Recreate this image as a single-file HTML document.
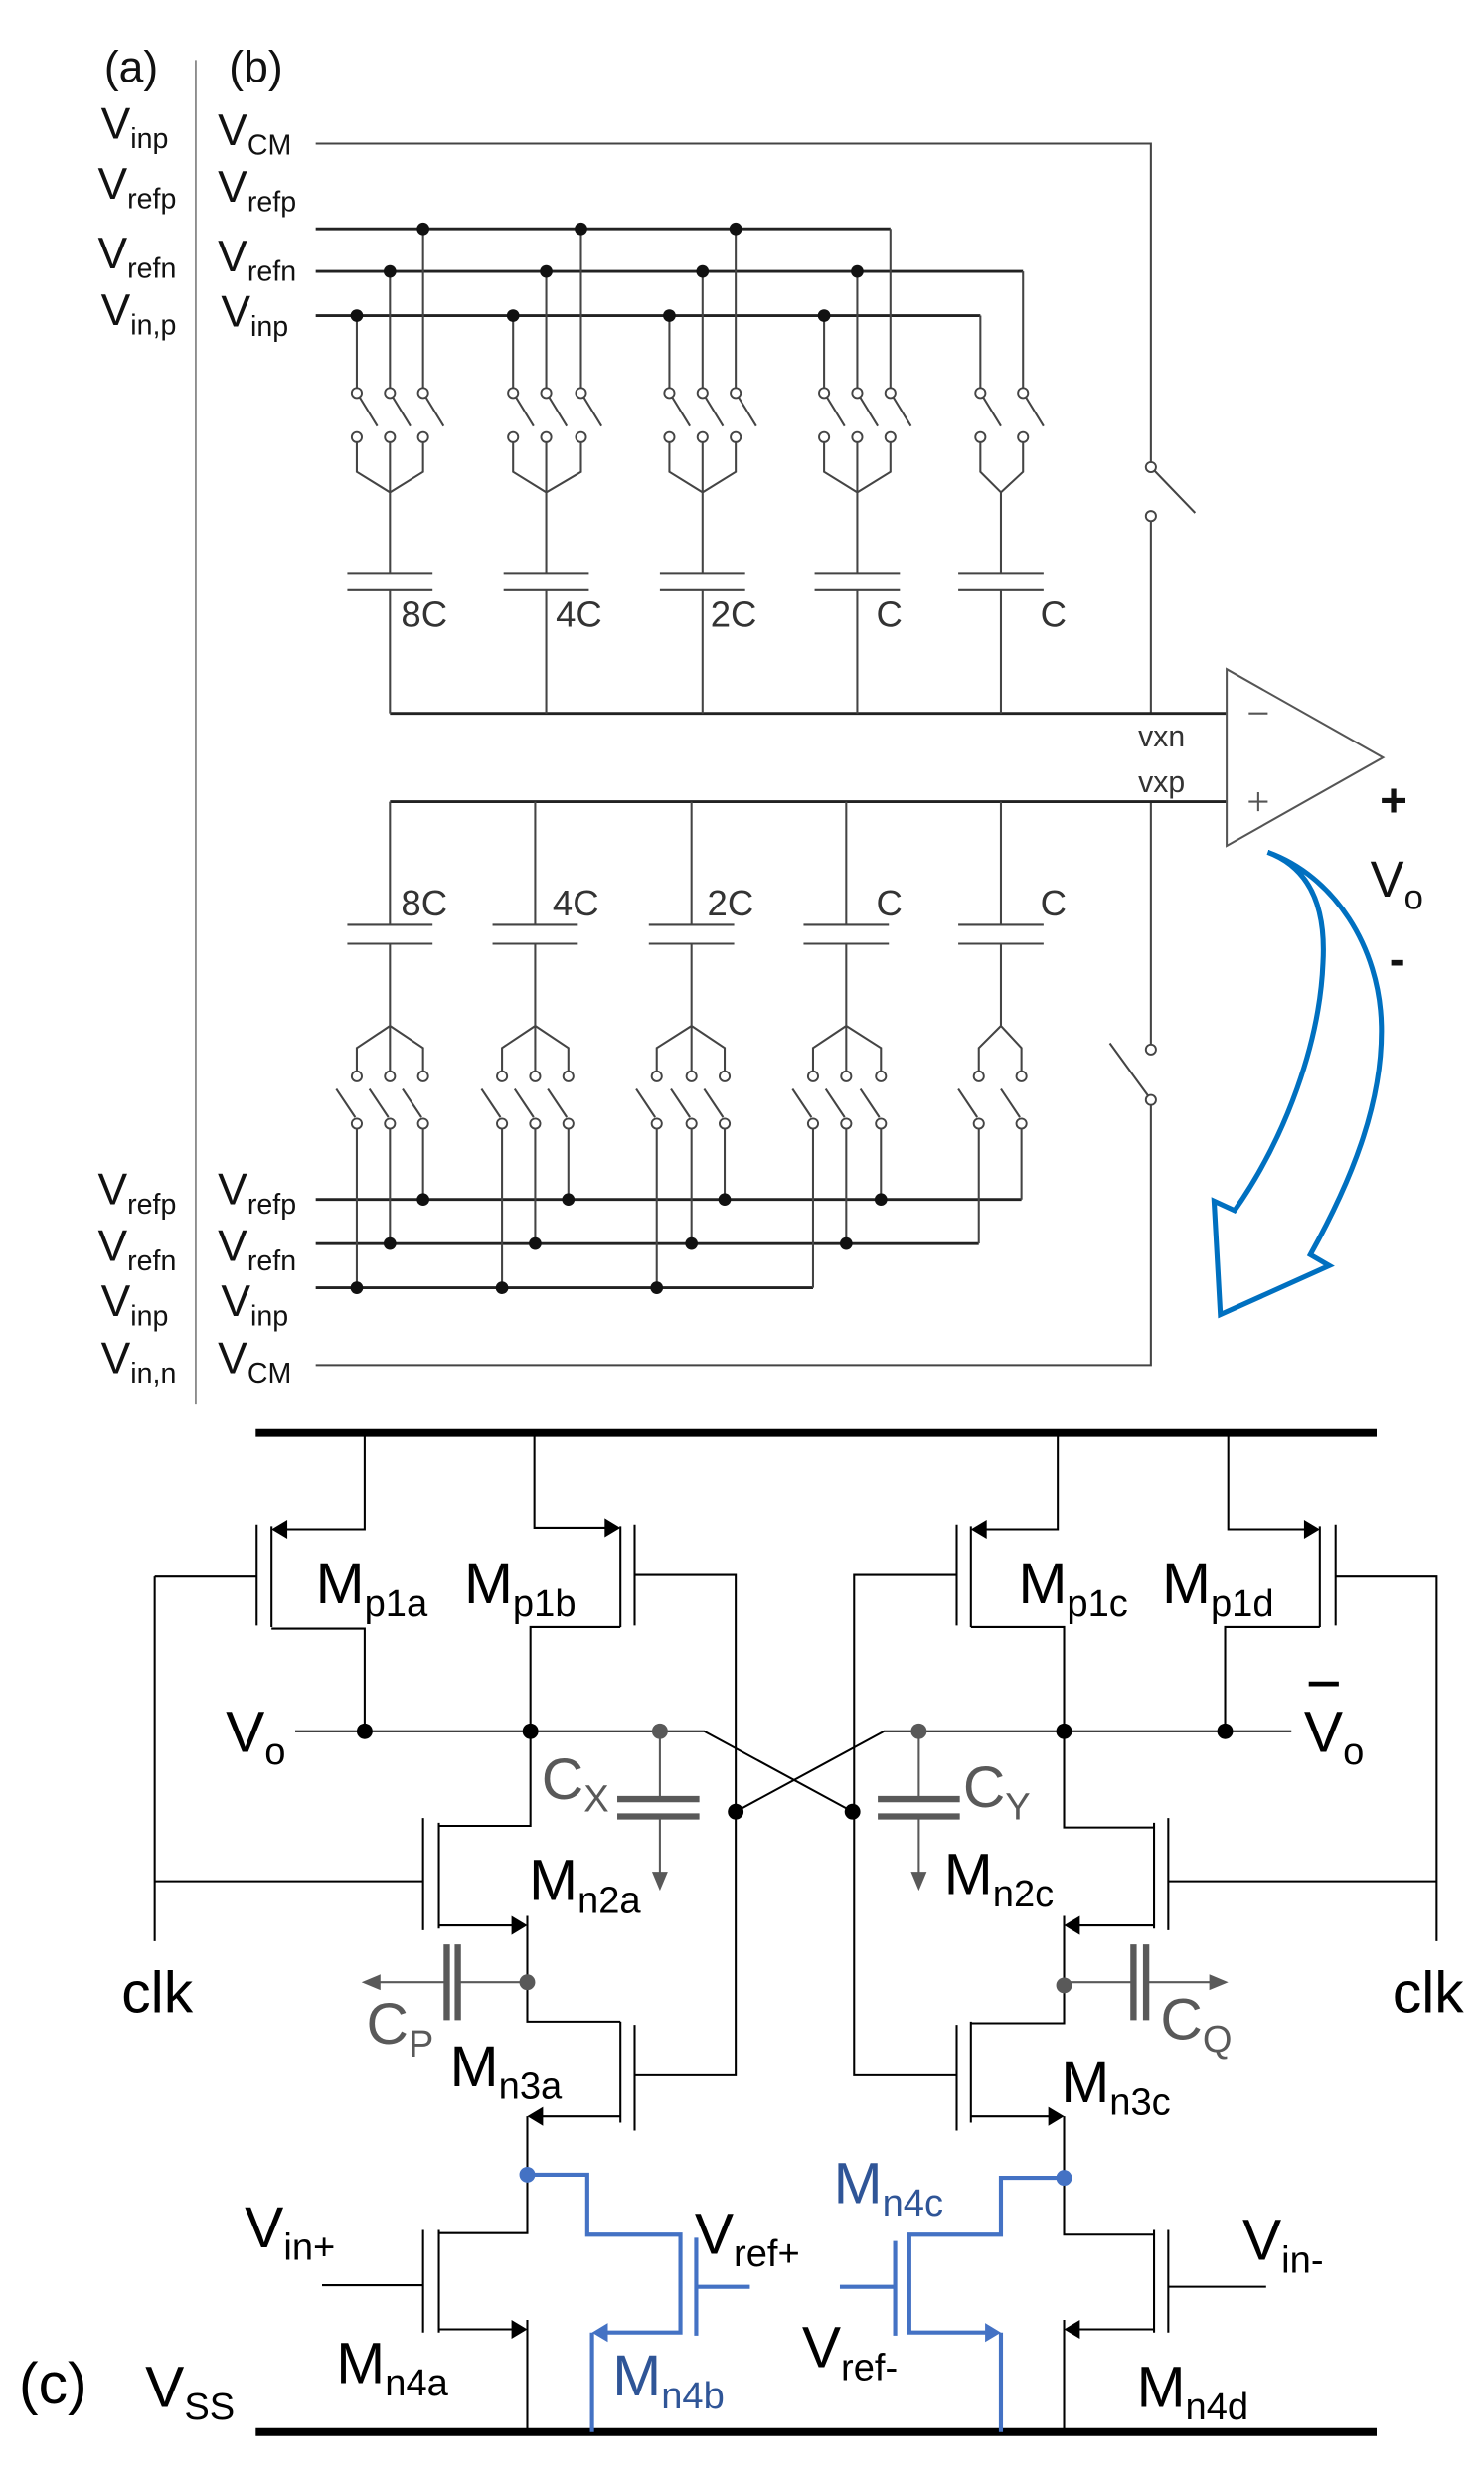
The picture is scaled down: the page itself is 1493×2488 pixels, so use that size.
<!DOCTYPE html>
<html><head><meta charset="utf-8"><style>
html,body{margin:0;padding:0;background:#fff}
svg{display:block}
text{font-family:"Liberation Sans",sans-serif}
</style></head><body>
<svg width="1493" height="2488" viewBox="0 0 940 1567" preserveAspectRatio="none" xmlns="http://www.w3.org/2000/svg">
<rect width="940" height="1567" fill="#fff"/>
<line x1="124" y1="38" x2="124" y2="890" stroke="#777" stroke-width="1"/>
<g font-size="28" fill="#111">
<text x="66" y="52">(a)</text><text x="145" y="52">(b)</text>
<text x="64" y="88">V<tspan font-size="18" dy="6">inp</tspan></text>
<text x="62" y="126">V<tspan font-size="18" dy="6">refp</tspan></text>
<text x="62" y="170">V<tspan font-size="18" dy="6">refn</tspan></text>
<text x="64" y="206">V<tspan font-size="18" dy="6">in,p</tspan></text>
<text x="138" y="92">V<tspan font-size="18" dy="6">CM</tspan></text>
<text x="138" y="128">V<tspan font-size="18" dy="6">refp</tspan></text>
<text x="138" y="172">V<tspan font-size="18" dy="6">refn</tspan></text>
<text x="140" y="207">V<tspan font-size="18" dy="6">inp</tspan></text>
<text x="62" y="763">V<tspan font-size="18" dy="6">refp</tspan></text>
<text x="62" y="799">V<tspan font-size="18" dy="6">refn</tspan></text>
<text x="64" y="834">V<tspan font-size="18" dy="6">inp</tspan></text>
<text x="64" y="870">V<tspan font-size="18" dy="6">in,n</tspan></text>
<text x="138" y="763">V<tspan font-size="18" dy="6">refp</tspan></text>
<text x="138" y="799">V<tspan font-size="18" dy="6">refn</tspan></text>
<text x="140" y="834">V<tspan font-size="18" dy="6">inp</tspan></text>
<text x="138" y="870">V<tspan font-size="18" dy="6">CM</tspan></text>
</g>
<g stroke="#444" stroke-width="1.3" fill="none">
<path d="M200 91H729V293M731 298L757 325M729 330V452"/>
<path d="M729 508V662M703 661L727 694M729 700V865H200"/>
<path d="M200 145H564M200 172H648M200 200H621" stroke="#222" stroke-width="1.8"/>
<path d="M200 760H647M200 788H620M200 816H515" stroke="#222" stroke-width="1.8"/>
<path d="M247 452H777M247 508H777" stroke="#222" stroke-width="1.8"/>
<path d="M226 200V246M247 172V246M268 145V246M228 252L239 270M249 252L260 270M270 252L281 270M226 280V299L247 312L268 299V280M247 280V363M220 363H274M220 374H274M247 374V452"/>
<path d="M325 200V246M346 172V246M368 145V246M327 252L338 270M348 252L359 270M370 252L381 270M325 280V299L346 312L368 299V280M346 280V363M319 363H373M319 374H373M346 374V452"/>
<path d="M424 200V246M445 172V246M466 145V246M426 252L437 270M447 252L458 270M468 252L479 270M424 280V299L445 312L466 299V280M445 280V363M418 363H472M418 374H472M445 374V452"/>
<path d="M522 200V246M543 172V246M564 145V246M524 252L535 270M545 252L556 270M566 252L577 270M522 280V299L543 312L564 299V280M543 280V363M516 363H570M516 374H570M543 374V452"/>
<path d="M621 200V246M648 172V246M623 252L634 270M650 252L661 270M621 280V299L634 312L648 299V280M634 312V363M607 363H661M607 374H661M634 374V452"/>
<path d="M247 508V586M220 586H274M220 598H274M247 598V650L226 664V679M247 650V679M247 650L268 664V679M213 690L225 708M234 690L246 708M255 690L267 708M226 715V816M247 715V788M268 715V760"/>
<path d="M339 508V586M312 586H366M312 598H366M339 598V650L318 664V679M339 650V679M339 650L360 664V679M305 690L317 708M326 690L338 708M347 690L359 708M318 715V816M339 715V788M360 715V760"/>
<path d="M438 508V586M411 586H465M411 598H465M438 598V650L416 664V679M438 650V679M438 650L459 664V679M403 690L415 708M425 690L437 708M446 690L458 708M416 715V816M438 715V788M459 715V760"/>
<path d="M536 508V586M509 586H563M509 598H563M536 598V650L515 664V679M536 650V679M536 650L558 664V679M502 690L514 708M523 690L535 708M545 690L557 708M515 715V816M536 715V788M558 715V760"/>
<path d="M634 508V586M607 586H661M607 598H661M634 598V650L620 664V679M634 650L647 664V679M607 690L619 708M634 690L646 708M620 715V788M647 715V760"/>
<path d="M777 424L876 480L777 536Z" stroke="#555"/>
<path d="M791 452H803M791 508H803M797 502V514" stroke="#555"/>
</g>
<g stroke="#444" stroke-width="1.2" fill="#fff">
<circle cx="226" cy="249" r="3.2"/><circle cx="247" cy="249" r="3.2"/><circle cx="268" cy="249" r="3.2"/>
<circle cx="226" cy="277" r="3.2"/><circle cx="247" cy="277" r="3.2"/><circle cx="268" cy="277" r="3.2"/>
<circle cx="325" cy="249" r="3.2"/><circle cx="346" cy="249" r="3.2"/><circle cx="368" cy="249" r="3.2"/>
<circle cx="325" cy="277" r="3.2"/><circle cx="346" cy="277" r="3.2"/><circle cx="368" cy="277" r="3.2"/>
<circle cx="424" cy="249" r="3.2"/><circle cx="445" cy="249" r="3.2"/><circle cx="466" cy="249" r="3.2"/>
<circle cx="424" cy="277" r="3.2"/><circle cx="445" cy="277" r="3.2"/><circle cx="466" cy="277" r="3.2"/>
<circle cx="522" cy="249" r="3.2"/><circle cx="543" cy="249" r="3.2"/><circle cx="564" cy="249" r="3.2"/>
<circle cx="522" cy="277" r="3.2"/><circle cx="543" cy="277" r="3.2"/><circle cx="564" cy="277" r="3.2"/>
<circle cx="621" cy="249" r="3.2"/><circle cx="648" cy="249" r="3.2"/>
<circle cx="621" cy="277" r="3.2"/><circle cx="648" cy="277" r="3.2"/>
<circle cx="729" cy="296" r="3.2"/><circle cx="729" cy="327" r="3.2"/>
<circle cx="729" cy="665" r="3.2"/><circle cx="729" cy="697" r="3.2"/>
<circle cx="226" cy="682" r="3.2"/><circle cx="247" cy="682" r="3.2"/><circle cx="268" cy="682" r="3.2"/>
<circle cx="226" cy="712" r="3.2"/><circle cx="247" cy="712" r="3.2"/><circle cx="268" cy="712" r="3.2"/>
<circle cx="318" cy="682" r="3.2"/><circle cx="339" cy="682" r="3.2"/><circle cx="360" cy="682" r="3.2"/>
<circle cx="318" cy="712" r="3.2"/><circle cx="339" cy="712" r="3.2"/><circle cx="360" cy="712" r="3.2"/>
<circle cx="416" cy="682" r="3.2"/><circle cx="438" cy="682" r="3.2"/><circle cx="459" cy="682" r="3.2"/>
<circle cx="416" cy="712" r="3.2"/><circle cx="438" cy="712" r="3.2"/><circle cx="459" cy="712" r="3.2"/>
<circle cx="515" cy="682" r="3.2"/><circle cx="536" cy="682" r="3.2"/><circle cx="558" cy="682" r="3.2"/>
<circle cx="515" cy="712" r="3.2"/><circle cx="536" cy="712" r="3.2"/><circle cx="558" cy="712" r="3.2"/>
<circle cx="620" cy="682" r="3.2"/><circle cx="647" cy="682" r="3.2"/>
<circle cx="620" cy="712" r="3.2"/><circle cx="647" cy="712" r="3.2"/>
</g>
<g fill="#111">
<circle cx="268" cy="145" r="4"/><circle cx="368" cy="145" r="4"/><circle cx="466" cy="145" r="4"/>
<circle cx="247" cy="172" r="4"/><circle cx="346" cy="172" r="4"/><circle cx="445" cy="172" r="4"/><circle cx="543" cy="172" r="4"/>
<circle cx="226" cy="200" r="4"/><circle cx="325" cy="200" r="4"/><circle cx="424" cy="200" r="4"/><circle cx="522" cy="200" r="4"/>
<circle cx="268" cy="760" r="4"/><circle cx="360" cy="760" r="4"/><circle cx="459" cy="760" r="4"/><circle cx="558" cy="760" r="4"/>
<circle cx="247" cy="788" r="4"/><circle cx="339" cy="788" r="4"/><circle cx="438" cy="788" r="4"/><circle cx="536" cy="788" r="4"/>
<circle cx="226" cy="816" r="4"/><circle cx="318" cy="816" r="4"/><circle cx="416" cy="816" r="4"/>
</g>
<g font-size="23" fill="#333">
<text x="254" y="397">8C</text><text x="352" y="397">4C</text><text x="450" y="397">2C</text><text x="555" y="397">C</text><text x="659" y="397">C</text>
<text x="254" y="580">8C</text><text x="350" y="580">4C</text><text x="448" y="580">2C</text><text x="555" y="580">C</text><text x="659" y="580">C</text>
<text x="721" y="473" font-size="19">vxn</text><text x="721" y="502" font-size="19">vxp</text>
</g>
<g fill="#111" font-weight="bold"><text x="874" y="517" font-size="30">+</text><text x="880" y="618" font-size="30">-</text></g>
<text x="868" y="568" font-size="32" fill="#111">V<tspan font-size="22" dy="8">o</tspan></text>
<path d="M803 540C830 550 840 575 838 610C836 660 815 720 782 767L769 761L773 833L842 802L830 795C855 750 876 700 875 650C874 600 845 555 803 540Z" fill="none" stroke="#0070c0" stroke-width="3.2" stroke-linejoin="miter"/>

<g stroke="#000" stroke-width="5"><path d="M162 908H872M162 1541H872"/></g>
<g stroke="#000" stroke-width="1.3" fill="none">
<path d="M231 908V969H178M172 967V1031M172 1032H231V1097M162.6 966V1030M98 999H162M98 999V1230"/>
<path d="M338.5 908V968H387M393 967V1031M393 1031H336V1097M402 966V1030M402 998H466V1315H402"/>
<path d="M187 1097H446L540 1148M466 1148L560 1097H818"/>
<path d="M336 1097V1157H278M278 1155V1222M268 1152V1223M98 1192H268M278 1220H328M334 1214V1281H393M393 1281V1345M402 1283V1350M393 1341H340M334 1341V1378"/>
<path d="M334 1378V1415H278M278 1413V1478M268 1413V1478M204 1448H268M278 1476H328M334 1470V1541"/>
<path d="M670 908V969H620M615 967V1031M615 1031H674V1097M606 966V1030M606 998H541V1315H606"/>
<path d="M778 908V969H830M836 967V1031M836 1031H776V1097M846 966V1030M846 999H910V1230"/>
<path d="M674 1097V1158H731M731 1155V1222M740 1152V1223M740 1192H910M731 1220H680M674 1214V1282H615M615 1281V1345M606 1283V1350M615 1341H668M674 1341V1380"/>
<path d="M674 1380V1416H731M731 1413V1478M740 1413V1478M740 1449H802M731 1476H680M674 1470V1541"/>
</g>
<g fill="#000">
<polygon points="172,969 182,963 182,975"/><polygon points="393,968 383,962 383,974"/>
<polygon points="615,969 625,963 625,975"/><polygon points="836,969 826,963 826,975"/>
<polygon points="334,1220 324,1214 324,1226"/><polygon points="334,1341 344,1335 344,1347"/>
<polygon points="334,1476 324,1470 324,1482"/>
<polygon points="674,1220 684,1214 684,1226"/><polygon points="674,1341 664,1335 664,1347"/>
<polygon points="674,1476 684,1470 684,1482"/>
<circle cx="231" cy="1097" r="5"/><circle cx="336" cy="1097" r="5"/><circle cx="466" cy="1148" r="5"/>
<circle cx="540" cy="1148" r="5"/><circle cx="674" cy="1097" r="5"/><circle cx="776" cy="1097" r="5"/>
</g>
<g stroke="#595959" stroke-width="1.3" fill="none">
<path d="M418 1097V1140M418 1151V1188M582 1097V1140M582 1151V1188"/>
<path d="M334 1256H290M283 1256H240M674 1256H718M726 1256H768"/>
<path d="M391 1140H443M391 1151H443M556 1140H608M556 1151H608M283 1232V1280M290 1232V1280M718 1232V1280M726 1232V1280" stroke-width="4"/>
</g>
<g fill="#595959">
<circle cx="418" cy="1097" r="5"/><circle cx="582" cy="1097" r="5"/><circle cx="334" cy="1256" r="5"/><circle cx="674" cy="1258" r="5"/>
<polygon points="418,1198 413,1186 423,1186"/><polygon points="582,1198 577,1186 587,1186"/>
<polygon points="229,1256 241,1251 241,1261"/><polygon points="778,1256 766,1251 766,1261"/>
</g>
<g stroke="#4472c4" stroke-width="2.6" fill="none">
<path d="M334 1378H372V1416H431V1478H381M375 1478V1541M441 1418V1480M441 1449H475"/>
<path d="M674 1380H634V1416H576V1478H628M634 1478V1541M567 1420V1480M532 1449H567"/>
</g>
<g fill="#4472c4">
<circle cx="334" cy="1378" r="5"/><circle cx="674" cy="1380" r="5"/>
<polygon points="375,1478 385,1472 385,1484"/><polygon points="634,1478 624,1472 624,1484"/>
</g>
<g font-size="37" fill="#000">
<text x="200" y="1016">M<tspan font-size="24" dy="8">p1a</tspan></text>
<text x="294" y="1016">M<tspan font-size="24" dy="8">p1b</tspan></text>
<text x="645" y="1016">M<tspan font-size="24" dy="8">p1c</tspan></text>
<text x="736" y="1016">M<tspan font-size="24" dy="8">p1d</tspan></text>
<text x="143" y="1110">V<tspan font-size="24" dy="8">o</tspan></text>
<text x="826" y="1110">V<tspan font-size="24" dy="8">o</tspan></text>
<text x="335" y="1204">M<tspan font-size="24" dy="8">n2a</tspan></text>
<text x="598" y="1200">M<tspan font-size="24" dy="8">n2c</tspan></text>
<text x="77" y="1275">clk</text><text x="882" y="1275">clk</text>
<text x="285" y="1322">M<tspan font-size="24" dy="8">n3a</tspan></text>
<text x="672" y="1332">M<tspan font-size="24" dy="8">n3c</tspan></text>
<text x="155" y="1424">V<tspan font-size="24" dy="8">in+</tspan></text>
<text x="440" y="1428">V<tspan font-size="24" dy="8">ref+</tspan></text>
<text x="787" y="1432">V<tspan font-size="24" dy="8">in-</tspan></text>
<text x="508" y="1500">V<tspan font-size="24" dy="8">ref-</tspan></text>
<text x="213" y="1510">M<tspan font-size="24" dy="8">n4a</tspan></text>
<text x="720" y="1525">M<tspan font-size="24" dy="8">n4d</tspan></text>
<text x="12" y="1523">(c)</text>
<text x="92" y="1525">V<tspan font-size="24" dy="8">SS</tspan></text>
</g>
<path d="M829 1067H848" stroke="#000" stroke-width="3"/>
<g font-size="37" fill="#595959">
<text x="343" y="1140">C<tspan font-size="24" dy="8">X</tspan></text>
<text x="610" y="1145">C<tspan font-size="24" dy="8">Y</tspan></text>
<text x="232" y="1295">C<tspan font-size="24" dy="8">P</tspan></text>
<text x="735" y="1292">C<tspan font-size="24" dy="8">Q</tspan></text>
</g>
<g font-size="37" fill="#2f5597">
<text x="528" y="1396">M<tspan font-size="24" dy="8">n4c</tspan></text>
<text x="388" y="1518">M<tspan font-size="24" dy="8">n4b</tspan></text>
</g>
</svg>
</body></html>
